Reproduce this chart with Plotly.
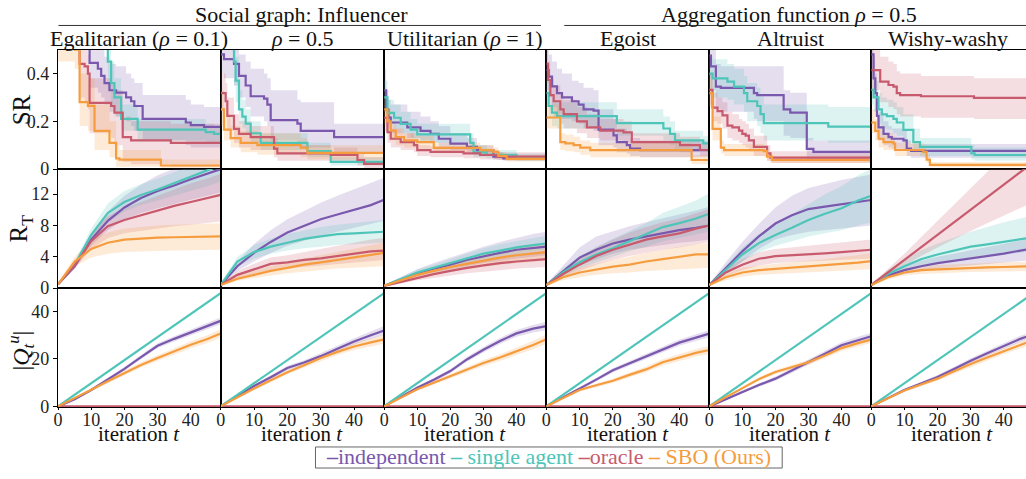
import plotly.graph_objects as go

# ---------------- data ----------------
COLUMNS = ["Egalitarian (<i>ρ</i> = 0.1)", "<i>ρ</i> = 0.5", "Utilitarian (<i>ρ</i> = 1)",
           "Egoist", "Altruist", "Wishy-washy"]
GROUPS = ["Social graph: Influencer", "Aggregation function <i>ρ</i> = 0.5"]
SERIES = ["independent", "single agent", "oracle", "SBO (Ours)"]
COLORS = ["#7a58ad", "#4ec5b8", "#c85a6e", "#f59d3e"]
ROW_TITLES = ["SR", "R<sub>T</sub>", "|<i>Q</i><sub><i>t</i></sub><sup><i>u</i></sup>|"]
X_TITLE = "iteration <i>t</i>"
SR_TICKS = [0, 0.2, 0.4]
SR_TICKTEXT = ["0", "0.2", "0.4"]
RT_TICKS = [0, 4, 8, 12]
Q_TICKS = [0, 20, 40]
X_TICKS = [0, 10, 20, 30, 40]

# Row 1: simple regret (step curves), per panel: change times, mean, lower, upper
SR_IND_T = [[0, 9.5, 12, 13, 14, 15.5, 17.5, 20.5, 22, 23, 25.5, 38.5, 40, 44, 49],
            [0, 1, 4, 5.5, 7.5, 9, 13, 14, 15, 23, 24, 34, 49],
            [0, 0.6, 1.3, 2, 7, 11, 14, 16.5, 20, 25, 28, 33, 36, 49],
            [0, 0.7, 1.7, 3.2, 4.7, 7.7, 9.7, 11.2, 14.2, 15.7, 20.2, 21.2, 24.2, 25.2, 28.2, 49],
            [0, 0.5, 2, 3.5, 13.5, 14.5, 22.5, 24.5, 29.5, 31.5, 49],
            [0, 0.7, 1.2, 1.7, 2.2, 3.7, 5.2, 6.2, 9.7, 10.7, 12, 49]]
SR_IND = [[0.6, 0.445, 0.42, 0.39, 0.36, 0.33, 0.32, 0.30, 0.284, 0.264, 0.21, 0.195, 0.184, 0.177, 0.177],
          [0.48, 0.46, 0.44, 0.39, 0.35, 0.305, 0.295, 0.27, 0.205, 0.19, 0.16, 0.134, 0.134],
          [0.33, 0.25, 0.216, 0.195, 0.175, 0.16, 0.147, 0.127, 0.107, 0.093, 0.079, 0.052, 0.045, 0.045],
          [0.414, 0.387, 0.346, 0.318, 0.3, 0.284, 0.27, 0.25, 0.245, 0.165, 0.141, 0.113, 0.1, 0.086, 0.079, 0.079],
          [0.475, 0.43, 0.345, 0.34, 0.318, 0.31, 0.25, 0.236, 0.085, 0.072, 0.072],
          [0.48, 0.38, 0.318, 0.223, 0.175, 0.147, 0.134, 0.127, 0.12, 0.086, 0.076, 0.072]]
SR_IND_LO = [[0.5, 0.34, 0.32, 0.3, 0.27, 0.24, 0.22, 0.2, 0.18, 0.16, 0.12, 0.1, 0.09, 0.09, 0.09],
             [0.4, 0.38, 0.35, 0.3, 0.26, 0.22, 0.2, 0.18, 0.12, 0.11, 0.09, 0.07, 0.07],
             [0.26, 0.2, 0.17, 0.15, 0.13, 0.12, 0.11, 0.09, 0.08, 0.07, 0.06, 0.04, 0.035, 0.035],
             [0.33, 0.3, 0.26, 0.23, 0.21, 0.2, 0.19, 0.17, 0.16, 0.1, 0.09, 0.07, 0.065, 0.055, 0.05, 0.05],
             [0.38, 0.33, 0.25, 0.24, 0.21, 0.2, 0.14, 0.13, 0.04, 0.035, 0.035],
             [0.4, 0.3, 0.24, 0.16, 0.12, 0.1, 0.09, 0.085, 0.08, 0.055, 0.048, 0.045]]
SR_IND_HI = [[0.7, 0.55, 0.53, 0.5, 0.47, 0.44, 0.43, 0.40, 0.38, 0.36, 0.31, 0.29, 0.27, 0.26, 0.26],
             [0.55, 0.54, 0.52, 0.48, 0.45, 0.42, 0.4, 0.38, 0.33, 0.29, 0.28, 0.19, 0.19],
             [0.42, 0.33, 0.29, 0.27, 0.24, 0.22, 0.2, 0.18, 0.15, 0.13, 0.1, 0.07, 0.06, 0.06],
             [0.5, 0.48, 0.45, 0.42, 0.4, 0.37, 0.36, 0.34, 0.33, 0.25, 0.21, 0.17, 0.15, 0.13, 0.12, 0.12],
             [0.55, 0.5, 0.44, 0.43, 0.43, 0.43, 0.33, 0.32, 0.13, 0.12, 0.12],
             [0.55, 0.46, 0.4, 0.3, 0.24, 0.2, 0.18, 0.17, 0.16, 0.12, 0.105, 0.1]]

SR_SGL_T = [[0, 15, 16, 17, 19, 24, 44.5, 47, 49],
            [0, 4, 4.5, 5.5, 6.5, 7.5, 9, 12, 26, 33, 49],
            [0, 1, 3, 5, 8, 10, 26, 27, 31, 40, 49],
            [0, 0.7, 1.7, 3.2, 21.2, 35.2, 37.2, 38.7, 47.2, 49],
            [0, 1, 5.5, 7.5, 10.5, 11.5, 14.5, 15.5, 16.5, 36, 49],
            [0, 0.7, 2.2, 3.2, 4.7, 6.7, 7.7, 9.7, 12.7, 14.7, 30.2, 31.2, 49]]
SR_SGL = [[0.6, 0.45, 0.36, 0.30, 0.21, 0.165, 0.155, 0.147, 0.147],
          [0.6, 0.45, 0.37, 0.25, 0.22, 0.19, 0.15, 0.11, 0.075, 0.03, 0.025],
          [0.3, 0.235, 0.215, 0.189, 0.165, 0.145, 0.11, 0.07, 0.06, 0.048, 0.048],
          [0.318, 0.264, 0.236, 0.222, 0.192, 0.17, 0.147, 0.12, 0.108, 0.108],
          [0.4, 0.38, 0.366, 0.345, 0.318, 0.284, 0.264, 0.23, 0.192, 0.178, 0.178],
          [0.332, 0.3, 0.25, 0.229, 0.222, 0.21, 0.195, 0.164, 0.113, 0.093, 0.066, 0.059, 0.059]]
SR_SGL_LO = [[0.5, 0.33, 0.27, 0.22, 0.16, 0.12, 0.11, 0.11, 0.11],
             [0.5, 0.35, 0.28, 0.19, 0.17, 0.15, 0.11, 0.08, 0.05, 0.015, 0.01],
             [0.24, 0.19, 0.17, 0.15, 0.13, 0.11, 0.08, 0.05, 0.045, 0.035, 0.035],
             [0.26, 0.21, 0.18, 0.17, 0.14, 0.12, 0.1, 0.08, 0.075, 0.075],
             [0.33, 0.3, 0.29, 0.27, 0.24, 0.2, 0.18, 0.15, 0.12, 0.11, 0.11],
             [0.27, 0.24, 0.19, 0.17, 0.165, 0.15, 0.14, 0.11, 0.07, 0.055, 0.04, 0.035, 0.035]]
SR_SGL_HI = [[0.7, 0.55, 0.45, 0.38, 0.27, 0.21, 0.19, 0.18, 0.18],
             [0.7, 0.55, 0.47, 0.33, 0.29, 0.25, 0.2, 0.15, 0.11, 0.05, 0.045],
             [0.37, 0.29, 0.27, 0.24, 0.21, 0.19, 0.15, 0.1, 0.08, 0.065, 0.065],
             [0.38, 0.32, 0.29, 0.28, 0.25, 0.22, 0.2, 0.16, 0.14, 0.14],
             [0.47, 0.46, 0.44, 0.42, 0.39, 0.36, 0.34, 0.31, 0.27, 0.26, 0.26],
             [0.4, 0.37, 0.32, 0.3, 0.29, 0.28, 0.26, 0.23, 0.17, 0.13, 0.1, 0.09, 0.09]]

SR_ORC_T = [[0, 6.5, 8, 9, 9.5, 16, 17, 19.5, 22, 34, 49],
            [0, 1.5, 2, 4, 5.5, 9, 16, 17, 33, 41, 43, 49],
            [0, 1, 2, 5, 9, 10, 14, 24, 29, 34, 49],
            [0, 0.5, 1.2, 2.2, 4.2, 5.2, 9.2, 12.2, 16.2, 23.2, 25.7, 40.2, 46.2, 49],
            [0, 1, 2.5, 4, 5.5, 7, 9, 10, 11, 12, 13.5, 17.5, 18.5, 49],
            [0, 2.7, 5.2, 6.7, 7.7, 8.7, 15, 31, 47]]
SR_ORC = [[0.6, 0.44, 0.43, 0.40, 0.277, 0.264, 0.236, 0.134, 0.12, 0.11, 0.11],
          [0.318, 0.284, 0.223, 0.168, 0.147, 0.134, 0.086, 0.066, 0.059, 0.038, 0.022, 0.022],
          [0.215, 0.155, 0.127, 0.113, 0.1, 0.079, 0.072, 0.066, 0.059, 0.052, 0.05],
          [0.44, 0.373, 0.31, 0.284, 0.25, 0.23, 0.2, 0.175, 0.161, 0.154, 0.113, 0.1, 0.08, 0.08],
          [0.332, 0.257, 0.243, 0.225, 0.182, 0.175, 0.161, 0.147, 0.14, 0.12, 0.093, 0.066, 0.048, 0.045],
          [0.414, 0.366, 0.352, 0.345, 0.318, 0.31, 0.305, 0.298, 0.29]]
SR_ORC_LO = [[0.5, 0.3, 0.28, 0.25, 0.15, 0.13, 0.1, 0.03, 0.02, 0.01, 0.01],
             [0.25, 0.22, 0.16, 0.11, 0.09, 0.08, 0.05, 0.035, 0.03, 0.015, 0.005, 0.005],
             [0.16, 0.11, 0.09, 0.08, 0.07, 0.055, 0.05, 0.045, 0.04, 0.038, 0.036],
             [0.36, 0.3, 0.25, 0.22, 0.19, 0.17, 0.15, 0.13, 0.12, 0.11, 0.08, 0.07, 0.055, 0.055],
             [0.27, 0.2, 0.19, 0.17, 0.13, 0.12, 0.11, 0.1, 0.09, 0.075, 0.055, 0.035, 0.025, 0.022],
             [0.33, 0.28, 0.26, 0.25, 0.23, 0.22, 0.215, 0.21, 0.205]]
SR_ORC_HI = [[0.7, 0.55, 0.5, 0.48, 0.38, 0.36, 0.33, 0.22, 0.2, 0.19, 0.19],
             [0.4, 0.36, 0.3, 0.23, 0.2, 0.18, 0.13, 0.1, 0.09, 0.07, 0.05, 0.05],
             [0.27, 0.2, 0.17, 0.15, 0.13, 0.1, 0.095, 0.088, 0.08, 0.07, 0.066],
             [0.52, 0.45, 0.38, 0.35, 0.31, 0.29, 0.26, 0.23, 0.21, 0.2, 0.15, 0.135, 0.11, 0.11],
             [0.4, 0.32, 0.3, 0.28, 0.24, 0.23, 0.21, 0.2, 0.19, 0.17, 0.14, 0.1, 0.075, 0.07],
             [0.52, 0.47, 0.45, 0.44, 0.41, 0.4, 0.39, 0.38, 0.37]]

SR_SBO_T = [[0, 5, 6.5, 9, 11, 15.5, 17.5, 18.5, 31, 49],
            [0, 1, 3, 6, 11, 24, 26, 49],
            [0, 1, 2, 3.5, 6, 10, 15, 29, 33, 34.5, 37, 49],
            [0, 4.2, 5.7, 8.2, 10.2, 13.2, 43.7, 49],
            [0, 1, 3.5, 4.5, 16.5, 17.5, 19, 49],
            [0, 1.2, 2.2, 3.7, 6.7, 7.2, 15.7, 16.7, 17.7, 49]]
SR_SBO = [[0.52, 0.5, 0.28, 0.265, 0.16, 0.11, 0.045, 0.04, 0.015, 0.015],
          [0.25, 0.165, 0.13, 0.11, 0.1, 0.09, 0.068, 0.068],
          [0.25, 0.2, 0.161, 0.134, 0.12, 0.113, 0.089, 0.079, 0.072, 0.055, 0.043, 0.043],
          [0.216, 0.113, 0.108, 0.1, 0.09, 0.079, 0.038, 0.038],
          [0.318, 0.168, 0.09, 0.079, 0.075, 0.052, 0.038, 0.038],
          [0.195, 0.16, 0.127, 0.113, 0.107, 0.08, 0.072, 0.04, 0.018, 0.018]]
SR_SBO_LO = [[0.45, 0.42, 0.18, 0.16, 0.08, 0.05, 0.01, 0.01, 0.0, 0.0],
             [0.18, 0.12, 0.09, 0.07, 0.06, 0.05, 0.04, 0.04],
             [0.19, 0.15, 0.12, 0.1, 0.09, 0.085, 0.07, 0.06, 0.055, 0.04, 0.032, 0.032],
             [0.17, 0.08, 0.075, 0.07, 0.06, 0.05, 0.02, 0.02],
             [0.26, 0.12, 0.065, 0.055, 0.05, 0.035, 0.025, 0.025],
             [0.15, 0.12, 0.09, 0.08, 0.075, 0.055, 0.05, 0.025, 0.008, 0.008]]
SR_SBO_HI = [[0.58, 0.55, 0.4, 0.38, 0.27, 0.2, 0.1, 0.08, 0.04, 0.035],
             [0.33, 0.22, 0.18, 0.16, 0.15, 0.13, 0.1, 0.1],
             [0.3, 0.25, 0.2, 0.17, 0.15, 0.14, 0.11, 0.1, 0.09, 0.07, 0.056, 0.056],
             [0.27, 0.15, 0.145, 0.135, 0.12, 0.11, 0.06, 0.06],
             [0.38, 0.22, 0.12, 0.105, 0.1, 0.07, 0.055, 0.055],
             [0.25, 0.21, 0.17, 0.15, 0.14, 0.11, 0.1, 0.06, 0.03, 0.03]]

# Row 2: cumulative regret R_T
RT_T = [0, 5, 10, 15, 20, 25, 30, 35, 40, 45, 49]
RT_IND = [[0.5, 2.8, 6.2, 8.6, 10.3, 11.5, 12.4, 13.1, 13.9, 14.6, 15.2],
          [0.4, 2.8, 4.5, 5.9, 7.1, 8.0, 8.8, 9.4, 10.0, 10.6, 11.3],
          [0.3, 1.1, 1.9, 2.5, 3.0, 3.6, 4.1, 4.5, 4.9, 5.1, 5.3],
          [0.4, 2.2, 3.9, 4.9, 5.7, 6.2, 6.6, 7.0, 7.4, 7.7, 8.0],
          [0.4, 2.6, 4.7, 6.6, 8.25, 9.3, 10.1, 10.4, 10.7, 11.0, 11.25],
          [0.4, 1.6, 2.3, 2.8, 3.2, 3.5, 3.8, 4.1, 4.4, 4.8, 5.1]]
RT_IND_LO = [[0.4, 2.4, 5.4, 7.4, 8.8, 9.6, 10.2, 10.8, 11.3, 11.8, 12.2],
             [0.3, 2.2, 3.4, 4.5, 5.4, 6.1, 6.7, 7.2, 7.7, 8.2, 8.6],
             [0.2, 0.9, 1.5, 2.0, 2.4, 2.8, 3.2, 3.5, 3.8, 4.0, 4.2],
             [0.3, 1.6, 2.9, 3.7, 4.4, 4.9, 5.2, 5.5, 5.8, 6.0, 6.2],
             [0.3, 1.9, 3.5, 5.0, 6.2, 6.8, 7.2, 7.4, 7.6, 7.8, 8.0],
             [0.3, 1.3, 1.8, 2.2, 2.5, 2.7, 2.9, 3.1, 3.3, 3.5, 3.6]]
RT_IND_HI = [[0.6, 3.2, 7.0, 9.8, 11.8, 13.2, 14.4, 15.3, 16.2, 17.0, 17.6],
             [0.5, 3.4, 5.6, 7.4, 8.8, 9.9, 10.9, 11.8, 12.6, 13.4, 14.1],
             [0.4, 1.4, 2.4, 3.2, 3.9, 4.6, 5.3, 5.9, 6.4, 6.9, 7.2],
             [0.5, 2.9, 5.2, 6.6, 7.3, 7.9, 8.4, 8.9, 9.4, 9.9, 10.4],
             [0.5, 3.3, 5.9, 8.2, 10.3, 11.8, 12.8, 13.3, 13.8, 14.2, 14.5],
             [0.5, 2.0, 2.9, 3.5, 4.0, 4.4, 4.8, 5.2, 5.6, 6.0, 6.4]]
RT_SGL = [[0.5, 3.0, 6.8, 9.6, 11.0, 11.9, 12.6, 13.4, 14.2, 15.1, 15.7],
          [0.4, 3.4, 4.6, 5.3, 5.8, 6.3, 6.6, 6.9, 7.0, 7.1, 7.2],
          [0.3, 1.2, 2.0, 2.6, 3.2, 3.8, 4.4, 4.8, 5.2, 5.5, 5.7],
          [0.4, 2.0, 3.3, 4.3, 5.1, 6.0, 6.8, 7.8, 8.3, 8.9, 9.5],
          [0.4, 2.4, 4.3, 5.75, 6.8, 7.7, 8.7, 9.5, 10.2, 11.2, 11.8],
          [0.4, 1.8, 2.8, 3.7, 4.3, 4.8, 5.3, 5.6, 5.9, 6.2, 6.5]]
RT_SGL_LO = [[0.4, 2.6, 6.0, 8.4, 9.8, 10.6, 11.2, 11.8, 12.4, 13.0, 13.6],
             [0.3, 2.8, 3.8, 4.4, 4.8, 5.1, 5.3, 5.5, 5.6, 5.7, 5.8],
             [0.2, 1.0, 1.7, 2.2, 2.7, 3.2, 3.7, 4.1, 4.4, 4.7, 4.9],
             [0.3, 1.5, 2.5, 3.3, 4.0, 4.7, 5.3, 6.0, 6.4, 6.8, 7.2],
             [0.3, 1.9, 3.4, 4.6, 5.4, 6.0, 6.6, 7.0, 7.4, 8.0, 8.4],
             [0.3, 1.4, 2.2, 2.9, 3.3, 3.6, 3.9, 4.1, 4.3, 4.5, 4.7]]
RT_SGL_HI = [[0.6, 3.4, 7.6, 10.8, 12.4, 13.3, 14.0, 14.8, 15.6, 16.2, 16.8],
             [0.5, 4.0, 5.5, 6.3, 6.9, 7.4, 7.8, 8.1, 8.3, 8.5, 8.7],
             [0.4, 1.4, 2.4, 3.0, 3.7, 4.4, 5.1, 5.6, 6.0, 6.4, 6.7],
             [0.5, 2.5, 4.1, 5.3, 6.3, 7.3, 8.3, 9.6, 10.4, 11.2, 12.1],
             [0.5, 2.9, 5.2, 6.9, 8.2, 9.4, 10.8, 12.0, 13.0, 14.4, 15.2],
             [0.5, 2.3, 3.6, 4.8, 5.7, 6.5, 7.2, 7.8, 8.4, 8.9, 9.3]]
RT_ORC = [[0.5, 2.9, 6.0, 7.9, 8.7, 9.3, 9.9, 10.5, 11.0, 11.5, 11.9],
          [0.4, 1.7, 2.4, 3.1, 3.3, 3.6, 3.8, 4.1, 4.4, 4.7, 4.8],
          [0.3, 0.8, 1.3, 1.8, 2.2, 2.6, 2.9, 3.2, 3.4, 3.6, 3.7],
          [0.4, 1.8, 3.0, 4.1, 4.9, 5.6, 6.2, 6.6, 7.0, 7.6, 8.0],
          [0.4, 2.0, 3.0, 3.75, 4.1, 4.2, 4.3, 4.45, 4.6, 4.75, 4.9],
          [0.4, 2.0, 3.6, 5.2, 6.8, 8.4, 10.0, 11.6, 13.2, 14.8, 16.1]]
RT_ORC_LO = [[0.4, 2.5, 5.0, 6.4, 7.0, 7.3, 7.6, 7.9, 8.1, 8.3, 8.5],
             [0.3, 1.3, 1.8, 2.3, 2.5, 2.7, 2.9, 3.1, 3.3, 3.5, 3.6],
             [0.2, 0.6, 1.0, 1.3, 1.6, 1.9, 2.1, 2.3, 2.5, 2.6, 2.7],
             [0.3, 1.3, 2.2, 3.0, 3.6, 4.1, 4.5, 4.9, 5.2, 5.6, 5.9],
             [0.3, 1.5, 2.3, 2.9, 3.2, 3.3, 3.4, 3.5, 3.6, 3.7, 3.8],
             [0.3, 1.6, 2.9, 4.1, 5.2, 6.3, 7.3, 8.3, 9.3, 10.2, 11.0]]
RT_ORC_HI = [[0.6, 3.3, 7.0, 9.2, 10.2, 11.0, 11.8, 12.6, 13.4, 14.0, 14.6],
             [0.5, 2.2, 3.1, 3.9, 4.2, 4.6, 5.0, 5.4, 5.8, 6.2, 6.4],
             [0.4, 1.0, 1.7, 2.3, 2.8, 3.3, 3.7, 4.1, 4.4, 4.6, 4.8],
             [0.5, 2.3, 3.8, 5.2, 6.2, 7.1, 7.8, 8.4, 8.9, 9.6, 10.1],
             [0.5, 2.5, 3.7, 4.6, 5.0, 5.2, 5.4, 5.6, 5.8, 6.0, 6.2],
             [0.5, 2.4, 4.4, 6.5, 8.6, 10.7, 12.8, 14.9, 17.0, 19.0, 20.5]]
RT_SBO = [[0.5, 3.4, 5.0, 5.8, 6.2, 6.35, 6.45, 6.5, 6.55, 6.6, 6.6],
          [0.4, 1.2, 1.7, 2.2, 2.6, 3.0, 3.3, 3.6, 3.9, 4.2, 4.5],
          [0.3, 1.0, 1.7, 2.2, 2.7, 3.1, 3.5, 3.9, 4.2, 4.4, 4.6],
          [0.4, 1.4, 2.0, 2.4, 2.75, 3.0, 3.4, 3.7, 4.0, 4.3, 4.3],
          [0.4, 1.4, 2.0, 2.3, 2.45, 2.6, 2.75, 2.9, 3.1, 3.25, 3.45],
          [0.4, 1.4, 2.0, 2.3, 2.4, 2.5, 2.6, 2.65, 2.7, 2.75, 2.8]]
RT_SBO_LO = [[0.4, 2.8, 3.9, 4.4, 4.6, 4.7, 4.75, 4.8, 4.85, 4.9, 4.9],
             [0.3, 0.9, 1.3, 1.6, 1.9, 2.1, 2.3, 2.5, 2.6, 2.7, 2.8],
             [0.2, 0.8, 1.3, 1.7, 2.1, 2.4, 2.7, 3.0, 3.2, 3.4, 3.5],
             [0.3, 1.0, 1.4, 1.7, 1.9, 2.0, 2.2, 2.3, 2.4, 2.5, 2.6],
             [0.3, 1.0, 1.5, 1.7, 1.8, 1.9, 2.0, 2.1, 2.2, 2.3, 2.4],
             [0.3, 1.1, 1.6, 1.8, 1.9, 2.0, 2.05, 2.1, 2.15, 2.2, 2.2]]
RT_SBO_HI = [[0.6, 4.0, 6.2, 7.1, 7.6, 7.8, 8.0, 8.1, 8.2, 8.3, 8.3],
             [0.5, 1.6, 2.2, 2.8, 3.3, 3.8, 4.2, 4.6, 5.0, 5.4, 5.8],
             [0.4, 1.2, 2.1, 2.7, 3.3, 3.8, 4.3, 4.8, 5.2, 5.5, 5.7],
             [0.5, 1.8, 2.6, 3.1, 3.6, 4.0, 4.5, 4.9, 5.3, 5.6, 5.8],
             [0.5, 1.8, 2.6, 2.9, 3.1, 3.3, 3.5, 3.7, 4.0, 4.2, 4.5],
             [0.5, 1.7, 2.5, 2.8, 2.95, 3.05, 3.15, 3.25, 3.3, 3.35, 3.4]]

# Row 3: number of queries |Q_t^u|
Q_T = [0, 5, 10, 15, 20, 25, 30, 35, 40, 45, 49]
Q_SGL = [0, 4.9, 9.8, 14.6, 19.5, 24.4, 29.3, 34.1, 39.0, 43.9, 47.8]
Q_ORC = [0, 0, 0, 0, 0, 0, 0, 0, 0, 0, 0]
Q_IND = [[0, 3.0, 6.9, 11.3, 15.8, 20.8, 25.6, 28.5, 31.1, 33.8, 36.1],
         [0, 4.3, 8.6, 12.3, 16.2, 18.5, 21.2, 24.3, 27.4, 30.0, 32.0],
         [0, 3.8, 7.9, 11.2, 14.9, 19.8, 23.9, 27.6, 30.8, 32.8, 33.9],
         [0, 3.7, 7.3, 11.3, 15.2, 18.2, 21.1, 24.2, 26.9, 29.0, 30.7],
         [0, 3.0, 6.2, 9.0, 11.7, 15.1, 18.6, 22.2, 25.8, 28.0, 29.6],
         [0, 3.5, 6.9, 9.6, 12.4, 15.8, 19.3, 22.4, 25.5, 28.5, 30.5]]
Q_IND_LO = [[0, 2.6, 6.3, 10.6, 15.0, 19.9, 24.6, 27.4, 29.9, 32.5, 34.7],
            [0, 3.9, 8.0, 11.5, 15.3, 17.5, 20.0, 23.0, 26.0, 28.4, 30.1],
            [0, 3.4, 7.3, 10.4, 14.0, 18.8, 22.7, 26.3, 29.4, 31.2, 32.1],
            [0, 3.3, 6.7, 10.5, 14.3, 17.2, 20.0, 23.0, 25.6, 27.6, 29.2],
            [0, 2.6, 5.6, 8.2, 10.8, 14.1, 17.5, 21.0, 24.5, 26.6, 28.1],
            [0, 3.1, 6.3, 8.9, 11.6, 14.9, 18.3, 21.3, 24.3, 27.2, 29.1]]
Q_IND_HI = [[0, 3.4, 7.5, 12.0, 16.6, 21.7, 26.6, 29.6, 32.3, 35.1, 37.5],
            [0, 4.7, 9.2, 13.1, 17.1, 19.5, 22.4, 25.6, 28.8, 31.6, 33.9],
            [0, 4.2, 8.5, 12.0, 15.8, 20.8, 25.1, 28.9, 32.2, 34.4, 35.7],
            [0, 4.1, 7.9, 12.1, 16.1, 19.2, 22.2, 25.4, 28.2, 30.4, 32.2],
            [0, 3.4, 6.8, 9.8, 12.6, 16.1, 19.7, 23.4, 27.1, 29.4, 31.1],
            [0, 3.9, 7.5, 10.3, 13.2, 16.7, 20.3, 23.5, 26.7, 29.8, 31.9]]
Q_SBO = [[0, 3.4, 7.0, 10.6, 14.2, 17.5, 20.4, 23.2, 26.0, 28.4, 30.8],
         [0, 3.8, 7.5, 11.0, 14.4, 17.4, 20.4, 23.0, 25.3, 27.0, 28.3],
         [0, 3.7, 7.2, 10.0, 12.8, 15.6, 18.3, 20.6, 23.2, 25.9, 28.3],
         [0, 3.6, 6.9, 8.9, 10.8, 13.3, 15.6, 18.6, 20.7, 22.6, 23.8],
         [0, 3.9, 7.6, 11.5, 14.5, 16.6, 18.6, 21.5, 24.6, 26.7, 28.2],
         [0, 3.4, 6.7, 9.2, 11.7, 14.8, 17.9, 20.6, 23.4, 26.0, 28.0]]
Q_SBO_LO = [[0, 3.0, 6.4, 9.8, 13.3, 16.4, 19.2, 21.9, 24.5, 26.8, 29.0],
            [0, 3.4, 6.9, 10.2, 13.5, 16.4, 19.2, 21.7, 23.8, 25.3, 26.4],
            [0, 3.3, 6.6, 9.2, 11.8, 14.5, 17.0, 19.2, 21.6, 24.1, 26.3],
            [0, 3.2, 6.3, 8.1, 9.9, 12.3, 14.4, 17.3, 19.2, 21.0, 22.1],
            [0, 3.5, 7.0, 10.7, 13.6, 15.6, 17.5, 20.3, 23.3, 25.3, 26.7],
            [0, 3.0, 6.1, 8.4, 10.8, 13.8, 16.7, 19.3, 22.0, 24.5, 26.4]]
Q_SBO_HI = [[0, 3.8, 7.6, 11.4, 15.1, 18.6, 21.6, 24.5, 27.5, 30.0, 32.6],
            [0, 4.2, 8.1, 11.8, 15.3, 18.4, 21.6, 24.3, 26.8, 28.7, 30.2],
            [0, 4.1, 7.8, 10.8, 13.8, 16.7, 19.6, 22.0, 24.8, 27.7, 30.3],
            [0, 4.0, 7.5, 9.7, 11.7, 14.3, 16.8, 19.9, 22.2, 24.2, 25.5],
            [0, 4.3, 8.2, 12.3, 15.4, 17.6, 19.7, 22.7, 25.9, 28.1, 29.7],
            [0, 3.8, 7.3, 10.0, 12.6, 15.8, 19.1, 21.9, 24.8, 27.5, 29.6]]

# ---------------- layout geometry (pixels) ----------------
W, H = 1026, 479
COL_EDGES = [53.3, 216.7, 381, 544, 707.7, 870.5, 1026]
ROW_EDGES = [50.7, 172.7, 294.3, 416]
X_RANGES = [[0, 49]] * 5 + [[0, 46.7]]
Y_RANGES = [[0, 0.5], [0, 15.2], [-0.4, 49.9]]
FONT = "Liberation Serif"


def px(x):
    return x / W


def py(y):
    return 1 - y / H


def rgba(hexc, a):
    h = hexc.lstrip("#")
    return "rgba(%d,%d,%d,%.2f)" % (int(h[0:2], 16), int(h[2:4], 16), int(h[4:6], 16), a)


fig = go.Figure()

layout_axes = {}
for r in range(3):
    for c in range(6):
        i = r * 6 + c + 1
        xa = "xaxis" if i == 1 else "xaxis%d" % i
        ya = "yaxis" if i == 1 else "yaxis%d" % i
        layout_axes[xa] = dict(
            domain=[px(COL_EDGES[c]), px(COL_EDGES[c + 1])],
            anchor="y" if i == 1 else "y%d" % i,
            range=X_RANGES[c], showgrid=False, zeroline=False,
            showline=True, mirror=True, linecolor="black", linewidth=1.3,
            tickvals=X_TICKS, showticklabels=(r == 2),
            ticks="outside" if r == 2 else "", ticklen=2, tickcolor="black",
            ticklabelstandoff=-6,
            tickfont=dict(family=FONT, size=18, color="#222"),
        )
        ydict = dict(
            domain=[py(ROW_EDGES[r + 1]), py(ROW_EDGES[r])],
            anchor="x" if i == 1 else "x%d" % i,
            range=Y_RANGES[r], showgrid=False, zeroline=False,
            showline=True, mirror=(c != 5), linecolor="black", linewidth=1.3,
            showticklabels=(c == 0), ticks="outside" if c == 0 else "",
            ticklen=4, tickcolor="black",
            tickfont=dict(family=FONT, size=18, color="#222"),
        )
        if r == 0:
            ydict.update(tickvals=SR_TICKS, ticktext=SR_TICKTEXT)
        elif r == 1:
            ydict.update(tickvals=RT_TICKS)
        else:
            ydict.update(tickvals=Q_TICKS)
        layout_axes[ya] = ydict


def axes_of(r, c):
    i = r * 6 + c + 1
    return ("x" if i == 1 else "x%d" % i), ("y" if i == 1 else "y%d" % i)


def add_band(xa, ya, xs, lo, hi, color, shape):
    fig.add_trace(go.Scatter(x=xs, y=hi, xaxis=xa, yaxis=ya, mode="lines",
                             line=dict(width=0, shape=shape), showlegend=False, hoverinfo="skip"))
    fig.add_trace(go.Scatter(x=xs, y=lo, xaxis=xa, yaxis=ya, mode="lines",
                             line=dict(width=0, shape=shape), fill="tonexty",
                             fillcolor=rgba(color, 0.2), showlegend=False, hoverinfo="skip"))


def add_line(xa, ya, xs, ys, k, shape):
    fig.add_trace(go.Scatter(
        x=xs, y=ys, xaxis=xa, yaxis=ya, mode="lines",
        line=dict(color=COLORS[k], width=2.2, shape=shape),
        name=SERIES[k], legendgroup=SERIES[k], showlegend=False))


SR_SETS = [(SR_IND_T, SR_IND, SR_IND_LO, SR_IND_HI),
           (SR_SGL_T, SR_SGL, SR_SGL_LO, SR_SGL_HI),
           (SR_ORC_T, SR_ORC, SR_ORC_LO, SR_ORC_HI),
           (SR_SBO_T, SR_SBO, SR_SBO_LO, SR_SBO_HI)]
RT_SETS = [(RT_IND, RT_IND_LO, RT_IND_HI), (RT_SGL, RT_SGL_LO, RT_SGL_HI),
           (RT_ORC, RT_ORC_LO, RT_ORC_HI), (RT_SBO, RT_SBO_LO, RT_SBO_HI)]

for c in range(6):
    # row 1
    xa, ya = axes_of(0, c)
    for k, (T, V, LO, HI) in enumerate(SR_SETS):
        add_band(xa, ya, T[c], LO[c], HI[c], COLORS[k], "hv")
    for k, (T, V, LO, HI) in enumerate(SR_SETS):
        add_line(xa, ya, T[c], V[c], k, "hv")
    # row 2
    xa, ya = axes_of(1, c)
    for k, (V, LO, HI) in enumerate(RT_SETS):
        add_band(xa, ya, RT_T, LO[c], HI[c], COLORS[k], "linear")
    for k, (V, LO, HI) in enumerate(RT_SETS):
        add_line(xa, ya, RT_T, V[c], k, "linear")
    # row 3
    xa, ya = axes_of(2, c)
    add_band(xa, ya, Q_T, Q_IND_LO[c], Q_IND_HI[c], COLORS[0], "linear")
    add_band(xa, ya, Q_T, Q_SBO_LO[c], Q_SBO_HI[c], COLORS[3], "linear")
    add_line(xa, ya, Q_T, Q_IND[c], 0, "linear")
    add_line(xa, ya, Q_T, Q_SGL, 1, "linear")
    add_line(xa, ya, Q_T, Q_ORC, 2, "linear")
    add_line(xa, ya, Q_T, Q_SBO[c], 3, "linear")


def txt(text, x, y, size, angle=0, color="#111", yanchor="middle"):
    return dict(text=text, x=px(x), y=py(y), xref="paper", yref="paper", xanchor="center",
                yanchor=yanchor, showarrow=False, textangle=angle,
                font=dict(family=FONT, size=size, color=color))


annotations = [txt(GROUPS[0], 298, 15, 22), txt(GROUPS[1], 788, 15, 22)]
col_centers = [(COL_EDGES[c] + COL_EDGES[c + 1]) / 2 for c in range(5)] + [948]
for c in range(6):
    annotations.append(txt(COLUMNS[c], col_centers[c], 39, 22))
# x-axis titles under every bottom panel (anchored by their bottom edge)
x_title_centers = [(COL_EDGES[c] + COL_EDGES[c + 1]) / 2 for c in range(5)] + [952]
for c in range(6):
    annotations.append(txt(X_TITLE, x_title_centers[c], 458, 21, yanchor="bottom"))
# row (y-axis) titles
row_centers = [(ROW_EDGES[r] + ROW_EDGES[r + 1]) / 2 for r in range(3)]
annotations.append(txt(ROW_TITLES[0], 16, row_centers[0], 25, angle=-90))
annotations.append(txt(ROW_TITLES[1], 16, row_centers[1], 25, angle=-90))
annotations.append(txt(ROW_TITLES[2], 16, row_centers[2] + 3, 24, angle=-90))

# legend drawn as a boxed line of coloured text (as in the reference)
LEGEND_LABELS = ["<b>–</b>" + SERIES[0], "<b>–</b> " + SERIES[1], "<b>–</b>" + SERIES[2], "<b>–</b> " + SERIES[3]]
legend_text = " ".join("<span style='color:%s'>%s</span>" % (COLORS[k], LEGEND_LABELS[k]) for k in range(4))
annotations.append(dict(text=legend_text, x=px(546), y=py(481), xref="paper", yref="paper",
                        xanchor="center", yanchor="bottom", showarrow=False,
                        font=dict(family=FONT, size=22, color="#333")))

shapes = [
    dict(type="line", xref="paper", yref="paper", x0=px(53.7), x1=px(538.6), y0=py(26), y1=py(26),
         line=dict(color="#333", width=1)),
    dict(type="line", xref="paper", yref="paper", x0=px(562), x1=1.0, y0=py(26), y1=py(26),
         line=dict(color="#333", width=1)),
    dict(type="rect", xref="paper", yref="paper", x0=px(312), x1=px(781), y0=py(478), y1=py(456.5),
         line=dict(color="#666", width=1), fillcolor="white", layer="below"),
]

fig.update_layout(
    width=W, height=H, margin=dict(l=0, r=0, t=0, b=0),
    paper_bgcolor="white", plot_bgcolor="white", showlegend=False,
    font=dict(family=FONT, size=18, color="#222"),
    annotations=annotations, shapes=shapes,
    **layout_axes,
)

fig.write_html("out.html")
